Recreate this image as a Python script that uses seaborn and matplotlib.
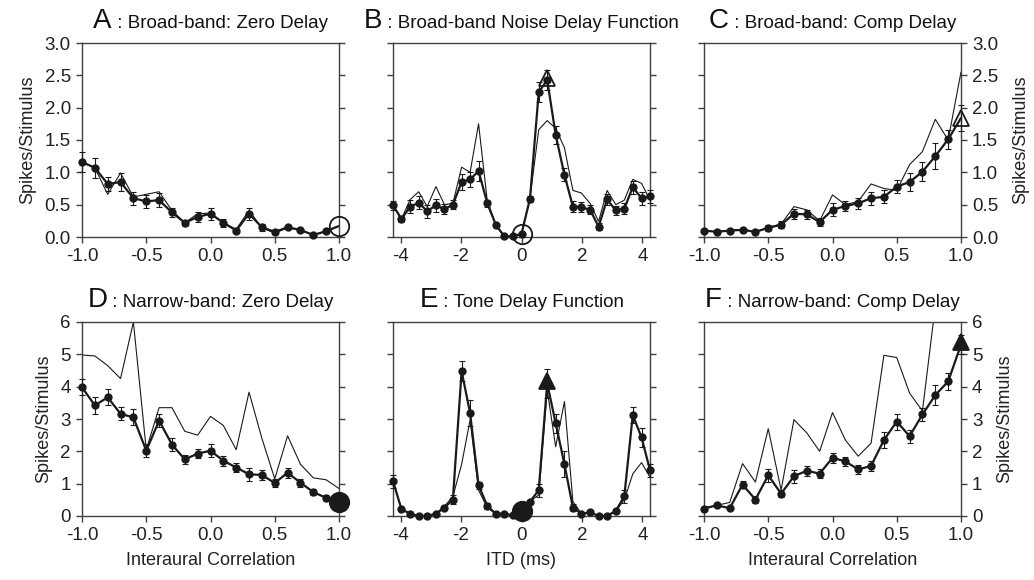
import matplotlib
matplotlib.use("Agg")
import matplotlib.pyplot as plt
import seaborn as sns
import numpy as np
from matplotlib.offsetbox import TextArea, HPacker, AnchoredOffsetbox

# ---------------- data ----------------
corr = [-1.0, -0.9, -0.8, -0.7, -0.6, -0.5, -0.4, -0.3, -0.2, -0.1, 0.0,
        0.1, 0.2, 0.3, 0.4, 0.5, 0.6, 0.7, 0.8, 0.9, 1.0]
itd = [-4.25, -3.97, -3.68, -3.40, -3.12, -2.83, -2.55, -2.27, -1.98, -1.70,
       -1.42, -1.13, -0.85, -0.57, -0.28, 0.00, 0.28, 0.57, 0.85, 1.13, 1.42,
       1.70, 1.98, 2.27, 2.55, 2.83, 3.12, 3.40, 3.68, 3.97, 4.25]

A_mean = [1.16, 1.07, 0.82, 0.85, 0.60, 0.55, 0.57, 0.38, 0.22, 0.31, 0.36,
          0.22, 0.10, 0.36, 0.15, 0.08, 0.15, 0.11, 0.03, 0.09, 0.17]
A_err = [0.15, 0.15, 0.11, 0.14, 0.10, 0.10, 0.11, 0.07, 0.05, 0.08, 0.09,
         0.06, 0.04, 0.09, 0.05, 0.03, 0.03, 0.03, 0.02, 0.02, 0.0]
A_pred = [1.16, 1.07, 0.66, 0.99, 0.62, 0.66, 0.70, 0.41, 0.22, 0.36, 0.37,
          0.22, 0.12, 0.41, 0.14, 0.06, 0.14, 0.11, 0.03, 0.09, 0.17]

B_mean = [0.49, 0.28, 0.47, 0.53, 0.40, 0.49, 0.43, 0.50, 0.85, 0.89, 1.02,
          0.52, 0.19, 0.01, 0.01, 0.05, 0.59, 2.24, 2.43, 1.58, 0.96, 0.47,
          0.46, 0.42, 0.16, 0.58, 0.41, 0.44, 0.77, 0.60, 0.63]
B_err = [0.07, 0.05, 0.10, 0.10, 0.10, 0.10, 0.08, 0.07, 0.12, 0.12, 0.15,
         0.05, 0.03, 0.01, 0.01, 0.02, 0.05, 0.15, 0.16, 0.14, 0.10, 0.08,
         0.08, 0.07, 0.05, 0.08, 0.07, 0.08, 0.10, 0.10, 0.10]
B_pred = [0.49, 0.28, 0.58, 0.70, 0.47, 0.78, 0.50, 0.52, 1.08, 1.00, 1.75,
          0.55, 0.19, 0.01, 0.01, 0.05, 0.60, 1.66, 1.80, 1.68, 1.38, 0.72,
          0.68, 0.52, 0.24, 0.72, 0.50, 0.57, 0.89, 0.83, 0.57]

C_mean = [0.10, 0.08, 0.10, 0.11, 0.08, 0.14, 0.19, 0.36, 0.35, 0.23, 0.42,
          0.48, 0.52, 0.60, 0.62, 0.78, 0.85, 1.01, 1.25, 1.51, 1.84]
C_err = [0.03, 0.02, 0.02, 0.03, 0.02, 0.04, 0.05, 0.08, 0.07, 0.06, 0.10,
         0.08, 0.08, 0.10, 0.10, 0.10, 0.14, 0.15, 0.20, 0.15, 0.20]
C_pred = [0.10, 0.08, 0.10, 0.12, 0.08, 0.15, 0.20, 0.47, 0.42, 0.25, 0.65,
          0.50, 0.55, 0.82, 0.75, 0.72, 1.12, 1.32, 1.82, 1.50, 2.55]

D_mean = [3.98, 3.42, 3.67, 3.16, 3.05, 2.02, 2.95, 2.21, 1.75, 1.93, 2.02,
          1.71, 1.50, 1.29, 1.27, 1.02, 1.34, 1.03, 0.74, 0.56, 0.43]
D_err = [0.25, 0.25, 0.25, 0.20, 0.25, 0.20, 0.20, 0.20, 0.15, 0.15, 0.20,
         0.15, 0.15, 0.20, 0.15, 0.12, 0.15, 0.12, 0.10, 0.10, 0.0]
D_pred = [4.98, 4.95, 4.65, 4.25, 6.00, 2.05, 3.35, 3.35, 2.62, 2.50, 3.08,
          2.80, 2.05, 3.83, 2.40, 1.15, 2.48, 1.60, 1.18, 1.12, 0.85]

E_mean = [1.08, 0.21, 0.07, 0.00, 0.00, 0.07, 0.26, 0.51, 4.48, 3.18, 0.95,
          0.31, 0.07, 0.07, 0.02, 0.16, 0.44, 0.80, 4.10, 2.87, 1.60, 0.26,
          0.07, 0.11, 0.00, 0.00, 0.16, 0.61, 3.12, 2.43, 1.42]
E_err = [0.20, 0.05, 0.02, 0.01, 0.01, 0.02, 0.05, 0.15, 0.30, 0.40, 0.10,
         0.10, 0.02, 0.02, 0.01, 0.02, 0.05, 0.20, 0.45, 0.30, 0.40, 0.10,
         0.02, 0.02, 0.01, 0.01, 0.05, 0.20, 0.25, 0.30, 0.20]
E_pred = [1.08, 0.21, 0.07, 0.00, 0.00, 0.07, 0.30, 0.60, 1.60, 2.97, 0.80,
          0.25, 0.07, 0.05, 0.02, 0.10, 0.45, 0.65, 3.90, 2.14, 3.54, 0.45,
          0.07, 0.10, 0.00, 0.00, 0.15, 0.50, 1.30, 1.65, 1.20]

F_mean = [0.23, 0.33, 0.24, 0.97, 0.51, 1.26, 0.69, 1.23, 1.40, 1.31, 1.80,
          1.69, 1.44, 1.55, 2.35, 2.92, 2.47, 3.14, 3.74, 4.16, 5.30]
F_err = [0.05, 0.05, 0.05, 0.10, 0.10, 0.20, 0.10, 0.20, 0.15, 0.15, 0.15,
         0.15, 0.15, 0.15, 0.25, 0.25, 0.20, 0.20, 0.30, 0.25, 0.30]
F_pred = [0.25, 0.33, 0.42, 1.62, 1.05, 2.70, 0.80, 2.98, 2.57, 2.00, 3.20,
          2.35, 1.85, 2.25, 4.97, 4.90, 3.80, 3.25, 6.50, 7.00, 7.50]

# special markers: (x, y, marker, filled)
A_special = [(1.0, 0.17, "o", False)]
B_special = [(0.0, 0.05, "o", False), (0.85, 2.46, "^", False)]
C_special = [(1.0, 1.84, "^", False)]
D_special = [(1.0, 0.43, "o", True)]
E_special = [(0.0, 0.16, "o", True), (0.85, 4.16, "^", True)]
F_special = [(1.0, 5.37, "^", True)]

letters = ["A", "B", "C", "D", "E", "F"]
titles = [" : Broad-band: Zero Delay", " : Broad-band Noise Delay Function",
          " : Broad-band: Comp Delay", " : Narrow-band: Zero Delay",
          " : Tone Delay Function", " : Narrow-band: Comp Delay"]

# ---------------- style ----------------
sns.set_theme(style="ticks")
plt.rcParams["font.family"] = ["Liberation Sans", "DejaVu Sans"]
plt.rcParams["axes.edgecolor"] = "#404040"
plt.rcParams["axes.linewidth"] = 1.0

fig = plt.figure(figsize=(10.34, 5.8), dpi=100)
W, H = 1034.0, 580.0
col_left = [82, 393, 704]
row_top = [43, 322]
aw, ah = 257, 194

panels = [
    (corr, A_mean, A_err, A_pred, A_special, [True] * 20 + [False]),
    (itd, B_mean, B_err, B_pred, B_special, [True] * 31),
    (corr, C_mean, C_err, C_pred, C_special, [True] * 20 + [False]),
    (corr, D_mean, D_err, D_pred, D_special, [True] * 20 + [False]),
    (itd, E_mean, E_err, E_pred, E_special, [True] * 31),
    (corr, F_mean, F_err, F_pred, F_special, [True] * 20 + [False]),
]

for i, (x, m, e, p, special, dots) in enumerate(panels):
    r, c = divmod(i, 3)
    ax = fig.add_axes([col_left[c] / W, 1 - (row_top[r] + ah) / H, aw / W, ah / H])
    x = np.asarray(x); m = np.asarray(m); e = np.asarray(e); p = np.asarray(p)
    dots = np.asarray(dots)

    sns.lineplot(x=x, y=p, ax=ax, color="k", lw=0.8, estimator=None, sort=False)
    sns.lineplot(x=x, y=m, ax=ax, color="k", lw=1.6, estimator=None, sort=False)
    ax.errorbar(x[e > 0], m[e > 0], yerr=e[e > 0], fmt="none", ecolor="k",
                elinewidth=0.8, capsize=2.3, capthick=0.8, clip_on=False, zorder=3)
    sns.scatterplot(x=x[dots], y=m[dots], ax=ax, color="k", s=36,
                    edgecolor="k", linewidth=0, zorder=4, clip_on=False)
    for (sx, sy, mk, filled) in special:
        ms = 14 if mk == "o" else 12
        ax.plot([sx], [sy], marker=mk, ms=ms, mfc="k" if filled else "none",
                mec="k", mew=1.3, ls="none", clip_on=False, zorder=5)

    if c == 1:
        ax.set_xlim(-4.25, 4.25)
        ax.set_xticks([-4, -2, 0, 2, 4])
        ax.set_xticklabels(["-4", "-2", "0", "2", "4"])
    else:
        ax.set_xlim(-1.0, 1.0)
        ax.set_xticks([-1.0, -0.5, 0.0, 0.5, 1.0])
        ax.set_xticklabels(["-1.0", "-0.5", "0.0", "0.5", "1.0"])
    if r == 0:
        ax.set_ylim(0, 3.0)
        ax.set_yticks([0, 0.5, 1.0, 1.5, 2.0, 2.5, 3.0])
        ax.set_yticklabels(["0.0", "0.5", "1.0", "1.5", "2.0", "2.5", "3.0"])
    else:
        ax.set_ylim(0, 6)
        ax.set_yticks([0, 1, 2, 3, 4, 5, 6])
        ax.set_yticklabels(["0", "1", "2", "3", "4", "5", "6"])

    ax.tick_params(axis="both", labelsize=13.5, length=4, width=1.0,
                   color="#404040", labelcolor="#222222", pad=4)
    ax.tick_params(axis="y", left=True, right=True)
    if c == 0:
        ax.tick_params(axis="y", labelleft=True, labelright=False)
        ax.set_ylabel("Spikes/Stimulus", fontsize=13, color="#222222", labelpad=6)
    elif c == 1:
        ax.tick_params(axis="y", labelleft=False, labelright=False)
        ax.set_ylabel("")
    else:
        ax.tick_params(axis="y", labelleft=False, labelright=True)
        ax.yaxis.set_label_position("right")
        ax.set_ylabel("Spikes/Stimulus", fontsize=13, color="#222222", labelpad=10)

    if r == 1:
        ax.set_xlabel("ITD (ms)" if c == 1 else "Interaural Correlation",
                      fontsize=13, color="#222222", labelpad=6)
    else:
        ax.set_xlabel("")

    for sp in ax.spines.values():
        sp.set_visible(True)
        sp.set_color("#404040")

    box = HPacker(children=[
        TextArea(letters[i], textprops=dict(size=20, color="#111111")),
        TextArea(titles[i], textprops=dict(size=13.5, color="#111111")),
    ], align="baseline", pad=0, sep=0)
    anch = AnchoredOffsetbox(loc="lower center", child=box, frameon=False,
                             bbox_to_anchor=(0.5, 1.045),
                             bbox_transform=ax.transAxes, borderpad=0, pad=0)
    ax.add_artist(anch)

fig.savefig("out.png", dpi=100)
